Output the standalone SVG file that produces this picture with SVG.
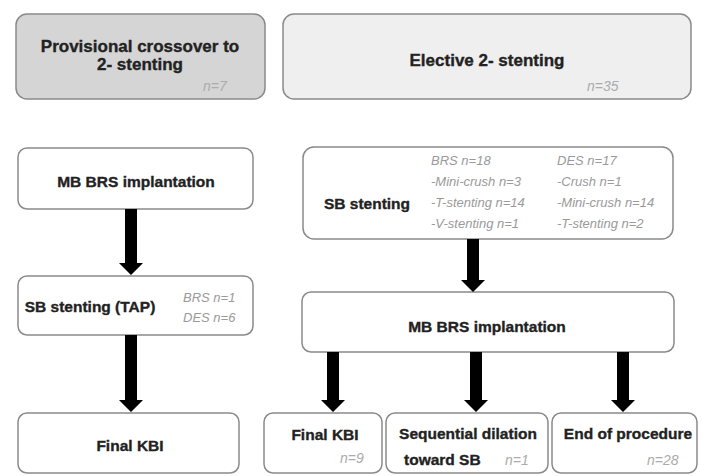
<svg xmlns="http://www.w3.org/2000/svg" width="702" height="476" viewBox="0 0 702 476">
<style>
.box{fill:#fff;stroke:#8a8a8a;stroke-width:1.5}
.t{font-family:"Liberation Sans",Arial,sans-serif;font-weight:bold;font-size:15.5px;fill:#222;stroke:#222;stroke-width:0.35}
.h{font-size:17px}
.n{font-family:"Liberation Sans",Arial,sans-serif;font-style:italic;font-size:13px;fill:#9a9a9a}
.m{font-size:14px;fill:#ababab}
.arr{fill:#000}
</style>
<rect width="702" height="476" fill="#fff"/>
<g id="provisional">
<rect class="box" x="16" y="14" width="249" height="85" rx="11" style="fill:#d5d5d5"/>
<text class="t h" x="140" y="52" text-anchor="middle">Provisional crossover to</text>
<text class="t h" x="140" y="70" text-anchor="middle">2- stenting</text>
<text class="n m" x="203" y="91">n=7</text>
</g>
<g id="elective">
<rect class="box" x="283" y="14" width="408" height="85" rx="11" style="fill:#efefef"/>
<text class="t h" x="487" y="66" text-anchor="middle">Elective 2- stenting</text>
<text class="n m" x="587" y="91">n=35</text>
</g>
<g id="mb-left">
<rect class="box" x="18" y="148" width="235" height="61" rx="9"/>
<text class="t" x="136" y="187" text-anchor="middle">MB BRS implantation</text>
</g>
<g id="sb-tap">
<rect class="box" x="18" y="276" width="235" height="59" rx="9"/>
<text class="t" x="90" y="312" text-anchor="middle">SB stenting (TAP)</text>
<text class="n" x="183" y="302">BRS n=1</text>
<text class="n" x="183" y="322">DES n=6</text>
</g>
<g id="kbi-left">
<rect class="box" x="18" y="413" width="221" height="60" rx="9"/>
<text class="t" x="130" y="451" text-anchor="middle">Final KBI</text>
</g>
<g id="sb-right">
<rect class="box" x="303" y="147" width="370" height="92" rx="11"/>
<text class="t" x="367" y="209" text-anchor="middle">SB stenting</text>
<text class="n" x="431" y="165">BRS n=18</text>
<text class="n" x="431" y="186">-Mini-crush n=3</text>
<text class="n" x="431" y="207">-T-stenting n=14</text>
<text class="n" x="431" y="228">-V-stenting n=1</text>
<text class="n" x="557" y="165">DES n=17</text>
<text class="n" x="557" y="186">-Crush n=1</text>
<text class="n" x="557" y="207">-Mini-crush n=14</text>
<text class="n" x="557" y="228">-T-stenting n=2</text>
</g>
<g id="mb-right">
<rect class="box" x="302" y="292" width="372" height="60" rx="9"/>
<text class="t" x="487" y="332" text-anchor="middle">MB BRS implantation</text>
</g>
<g id="kbi-right">
<rect class="box" x="264" y="413" width="118" height="60" rx="9"/>
<text class="t" x="325" y="440" text-anchor="middle">Final KBI</text>
<text class="n m" x="340" y="463">n=9</text>
</g>
<g id="sequential">
<rect class="box" x="386" y="413" width="162" height="60" rx="9"/>
<text class="t" x="468" y="439" text-anchor="middle">Sequential dilation</text>
<text class="t" x="404" y="465">toward SB</text>
<text class="n m" x="505" y="465">n=1</text>
</g>
<g id="end">
<rect class="box" x="552" y="413" width="145" height="60" rx="9"/>
<text class="t" x="628" y="439" text-anchor="middle">End of procedure</text>
<text class="n m" x="647" y="465">n=28</text>
</g>
<g id="connectors">
<polygon class="arr" points="125,209 137,209 137,263 143,263 131,275 119,263 125,263"/>
<polygon class="arr" points="125,335 137,335 137,400 143,400 131,412 119,400 125,400"/>
<polygon class="arr" points="467,239 479,239 479,280 485,280 473,292 461,280 467,280"/>
<polygon class="arr" points="327,352 339,352 339,400 345,400 333,412 321,400 327,400"/>
<polygon class="arr" points="470,352 482,352 482,400 488,400 476,412 464,400 470,400"/>
<polygon class="arr" points="617,352 629,352 629,400 635,400 623,412 611,400 617,400"/>
</g>
</svg>
